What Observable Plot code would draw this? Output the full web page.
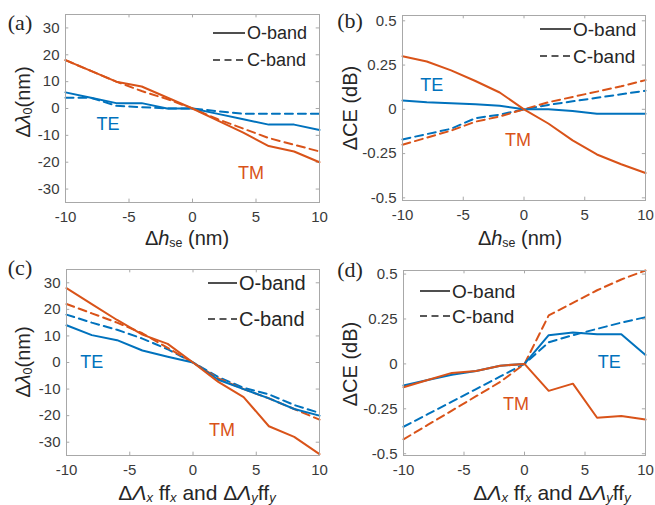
<!DOCTYPE html>
<html><head><meta charset="utf-8">
<script src="https://cdn.jsdelivr.net/npm/d3@7"></script>
<script src="https://cdn.jsdelivr.net/npm/@observablehq/plot@0.6"></script>
<style>
body{margin:0;background:#fff;}
#root{position:relative;width:655px;height:505px;overflow:hidden;background:#fff;font-family:Arial,"Liberation Sans",Helvetica,sans-serif;}
.panel{position:absolute;}
.lbl{position:absolute;white-space:nowrap;color:#262626;line-height:1;}
.lbl sub{font-size:0.62em;line-height:0;vertical-align:-0.18em;}
.leg{position:absolute;display:flex;align-items:center;white-space:nowrap;color:#262626;line-height:1;}
</style></head><body><div id="root"></div>
<script>
// ---- shared values ----
const xValues = [-10, -8, -6, -4, -2, 0, 2, 4, 6, 8, 10];
const xTicks = [-10, -5, 0, 5, 10];
const wlTicks = [-30, -20, -10, 0, 10, 20, 30];
const ceTicks = [-0.5, -0.25, 0, 0.25, 0.5];
const polarizations = ["TE", "TM"];
const polColors = ["#0072BD", "#D95319"];

// ---- panel (a): Δλ0 vs Δh_se ----
const a_TE_O = [6, 4, 2, 2, 0, 0, -2, -4, -6, -6, -8];
const a_TE_C = [4, 4, 1, 0.5, 0, 0, -1, -2, -2, -2, -2];
const a_TM_O = [18, 14, 10, 8.2, 4.1, 0, -4.5, -9, -14, -16, -20];
const a_TM_C = [18, 14, 10, 6.5, 3.5, 0, -4, -7.5, -11, -13.5, -16];

// ---- panel (b): ΔCE vs Δh_se ----
const b_TE_O = [0.05, 0.04, 0.035, 0.028, 0.02, 0, 0, -0.01, -0.025, -0.025, -0.025];
const b_TE_C = [-0.17, -0.14, -0.11, -0.05, -0.03, 0, 0.025, 0.045, 0.065, 0.085, 0.105];
const b_TM_O = [0.30, 0.27, 0.22, 0.16, 0.095, 0, -0.08, -0.175, -0.255, -0.31, -0.36];
const b_TM_C = [-0.20, -0.16, -0.12, -0.07, -0.04, 0, 0.04, 0.07, 0.10, 0.13, 0.165];

// ---- panel (c): Δλ0 vs ΔΛ ff ----
const c_TE_O = [14, 10.3, 8.4, 4.5, 2.2, 0, -6.5, -10, -13.5, -17.5, -20];
const c_TE_C = [18, 15, 12.3, 9, 5, 0, -5.5, -9.5, -12, -16, -19];
const c_TM_O = [28, 22, 16, 10.5, 7, 0, -7.3, -13, -24, -28, -34.5];
const c_TM_C = [22, 18.5, 15, 11, 5.5, 0, -6, -10, -13.5, -17.5, -21.5];

// ---- panel (d): ΔCE vs ΔΛ ff ----
const d_TE_O = [-0.12, -0.09, -0.06, -0.04, -0.01, 0, 0.16, 0.175, 0.165, 0.165, 0.05];
const d_TE_C = [-0.35, -0.28, -0.21, -0.14, -0.07, 0, 0.12, 0.16, 0.195, 0.23, 0.26];
const d_TM_O = [-0.13, -0.09, -0.05, -0.04, -0.01, 0, -0.15, -0.11, -0.30, -0.29, -0.31];
const d_TM_C = [-0.42, -0.34, -0.26, -0.18, -0.10, 0, 0.27, 0.34, 0.41, 0.47, 0.52];

const root = document.getElementById("root");

function makePanel(cfg) {
  const rows = [];
  for (const s of cfg.series) s.values.forEach((v, i) => rows.push({x: xValues[i], y: v, pol: s.pol, band: s.band}));
  const [y0, y1] = cfg.yDomain;
  const ty = (y1 - y0) * 0.018, tx = 20 * 0.013;
  const tick = {stroke: "#a8a8a8", strokeWidth: 1};
  const plot = Plot.plot({
    width: cfg.width, height: cfg.height,
    marginLeft: cfg.m[0], marginRight: cfg.m[1], marginTop: cfg.m[2], marginBottom: cfg.m[3],
    x: {domain: [-10, 10], label: null},
    y: {domain: cfg.yDomain, label: null},
    color: {domain: polarizations, range: polColors},
    style: {fontFamily: "Arial, 'Liberation Sans', sans-serif", fontSize: "15px", color: "#3a3a3a", background: "transparent", overflow: "visible"},
    marks: [
      Plot.ruleX(xTicks, {x: d => d, y1: y0, y2: y0 + ty, ...tick}),
      Plot.ruleX(xTicks, {x: d => d, y1: y1, y2: y1 - ty, ...tick}),
      Plot.ruleY(cfg.yTicks, {y: d => d, x1: -10, x2: -10 + tx, ...tick}),
      Plot.ruleY(cfg.yTicks, {y: d => d, x1: 10, x2: 10 - tx, ...tick}),
      Plot.axisX(xTicks, {tickSize: 0, tickPadding: 9, tickFormat: d => String(d), label: null}),
      Plot.axisY(cfg.yTicks, {tickSize: 0, tickPadding: 6, tickFormat: d => String(d), label: null}),
      Plot.line(rows.filter(d => d.band === "C"), {x: "x", y: "y", z: "pol", stroke: "pol", strokeWidth: 2, strokeDasharray: "8,5"}),
      Plot.line(rows.filter(d => d.band === "O"), {x: "x", y: "y", z: "pol", stroke: "pol", strokeWidth: 2}),
      Plot.text(cfg.notes, {x: "x", y: "y", text: "pol", fill: "pol", fontSize: 18}),
      Plot.frame({stroke: "#a8a8a8"})
    ]
  });
  const wrap = document.createElement("div");
  wrap.className = "panel";
  wrap.style.left = cfg.left + "px";
  wrap.style.top = cfg.top + "px";
  wrap.appendChild(plot);
  root.appendChild(wrap);
}

function addLabel(html, cx, cy, size, rotate, family) {
  const el = document.createElement("div");
  el.className = "lbl";
  el.innerHTML = html;
  el.style.left = cx + "px";
  el.style.top = cy + "px";
  el.style.fontSize = size + "px";
  if (family) el.style.fontFamily = family;
  el.style.transform = "translate(-50%,-50%)" + (rotate ? " rotate(-90deg)" : "");
  root.appendChild(el);
}

function addLegend(x, yO, yC, lineW, size) {
  [["O-band", yO, null], ["C-band", yC, "7,4.5"]].forEach(([t, y, dash]) => {
    const el = document.createElement("div");
    el.className = "leg";
    el.style.left = x + "px";
    el.style.top = (y - size / 2) + "px";
    el.style.height = size + "px";
    el.style.fontSize = size + "px";
    el.innerHTML = `<svg width="${lineW}" height="4" style="margin-right:2px"><line x1="0" y1="2" x2="${lineW}" y2="2" stroke="#222" stroke-width="1.6" ${dash ? `stroke-dasharray="${dash}"` : ""}/></svg><span>${t}</span>`;
    root.appendChild(el);
  });
}

makePanel({left: 0, top: 0, width: 327, height: 250, m: [65, 8, 14, 48], yDomain: [-35, 35], yTicks: wlTicks,
  series: [{pol: "TE", band: "O", values: a_TE_O}, {pol: "TE", band: "C", values: a_TE_C}, {pol: "TM", band: "O", values: a_TM_O}, {pol: "TM", band: "C", values: a_TM_C}],
  notes: [{pol: "TE", x: -6.65, y: -5.7}, {pol: "TM", x: 4.6, y: -24}]});
makePanel({left: 327, top: 0, width: 328, height: 250, m: [75, 10, 15, 50], yDomain: [-0.515, 0.53], yTicks: ceTicks,
  series: [{pol: "TE", band: "O", values: b_TE_O}, {pol: "TE", band: "C", values: b_TE_C}, {pol: "TM", band: "O", values: b_TM_O}, {pol: "TM", band: "C", values: b_TM_C}],
  notes: [{pol: "TE", x: -7.6, y: 0.137}, {pol: "TM", x: -0.5, y: -0.173}]});
makePanel({left: 0, top: 250, width: 327, height: 255, m: [66, 8, 19, 50], yDomain: [-35, 35], yTicks: wlTicks,
  series: [{pol: "TE", band: "O", values: c_TE_O}, {pol: "TE", band: "C", values: c_TE_C}, {pol: "TM", band: "O", values: c_TM_O}, {pol: "TM", band: "C", values: c_TM_C}],
  notes: [{pol: "TE", x: -8, y: 0.2}, {pol: "TM", x: 2.3, y: -25.4}]});
makePanel({left: 327, top: 250, width: 328, height: 255, m: [76, 10, 20, 50], yDomain: [-0.51, 0.52], yTicks: ceTicks,
  series: [{pol: "TE", band: "O", values: d_TE_O}, {pol: "TE", band: "C", values: d_TE_C}, {pol: "TM", band: "O", values: d_TM_O}, {pol: "TM", band: "C", values: d_TM_C}],
  notes: [{pol: "TE", x: 7, y: 0.01}, {pol: "TM", x: -0.7, y: -0.226}]});

// axis titles
const serif = "'Liberation Serif','DejaVu Serif',serif";
addLabel("Δ<i>h</i><sub>se</sub> (nm)", 187, 238, 20);
addLabel("Δ<i>h</i><sub>se</sub> (nm)", 520, 238, 20);
addLabel("Δ<i>Λ<sub>x</sub></i> ff<sub><i>x</i></sub> and Δ<i>Λ<sub>y</sub></i>ff<sub><i>y</i></sub>", 197, 492, 21);
addLabel("Δ<i>Λ<sub>x</sub></i> ff<sub><i>x</i></sub> and Δ<i>Λ<sub>y</sub></i>ff<sub><i>y</i></sub>", 552, 492, 21);
addLabel("Δ<i>λ</i><sub>0</sub>(nm)", 23, 102, 20, true);
addLabel("ΔCE (dB)", 350, 108, 20, true);
addLabel("Δ<i>λ</i><sub>0</sub>(nm)", 23, 362, 20, true);
addLabel("ΔCE (dB)", 350, 364, 20, true);
// panel letters
addLabel("(a)", 20, 23, 22, false, serif);
addLabel("(b)", 350, 21, 22, false, serif);
addLabel("(c)", 20, 268, 22, false, serif);
addLabel("(d)", 350, 270, 22, false, serif);
// legends
addLegend(213, 33, 60, 32, 18);
addLegend(540, 29, 56, 31, 19);
addLegend(208, 283, 319, 29, 20);
addLegend(420, 291, 316, 30, 19);
</script></body></html>
